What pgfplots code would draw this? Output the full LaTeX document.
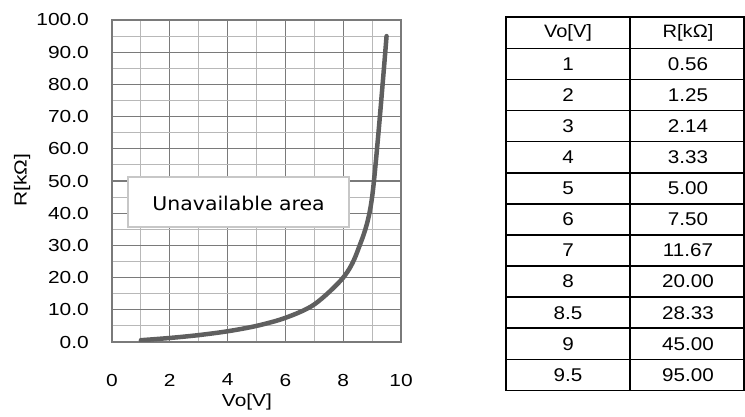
\documentclass[border=0pt]{standalone}
\usepackage{fontspec}
\setmainfont{Liberation Sans}[FakeStretch=1.2]
\newfontfamily\tabfont{Liberation Sans}[FakeStretch=1.12]
\newfontfamily\boxfont{DejaVu Sans}[FakeStretch=1.08]
\usepackage{pgfplots}
\pgfplotsset{compat=1.18}
\usepackage{pgfplotstable}
\pgfplotstableread{
vo r
1 0.56
2 1.25
3 2.14
4 3.33
5 5.00
6 7.50
7 11.67
8 20.00
8.5 28.33
9 45.00
9.5 95.00
}\datatable
\definecolor{curve}{HTML}{5F5F5F}
\begin{document}
\begin{tikzpicture}
\useasboundingbox (0,0) rectangle (745bp,417bp);
\begin{axis}[
  at={(112bp,75bp)}, anchor=south west, scale only axis,
  width=289bp, height=322bp,
  xmin=0, xmax=10, ymin=0, ymax=100,
  xtick={0,2,...,10}, minor xtick={1,3,...,9},
  ytick={0,10,...,100}, minor ytick={5,15,...,95},
  grid=both,
  major grid style={draw=black!52, line width=1.1bp},
  minor grid style={draw=black!28, line width=1.1bp},
  axis line style={draw=black!52, line width=1.1bp},
  tick style={draw=none},
  /pgf/number format/assume math mode=true,
  ticklabel style={font=\fontsize{17.5}{20}\selectfont},
  xticklabel style={anchor=center, yshift=-38bp},
  yticklabel style={anchor=east, inner sep=0pt, xshift=-23bp,
    /pgf/number format/.cd, fixed, fixed zerofill, precision=1},
]
\addplot[curve, line width=4.5bp, smooth, tension=0.5, line cap=round] table[x=vo, y=r] {\datatable};
\draw[fill=white, draw=black!22, line width=1.3bp] (axis cs:0.55,35.7) rectangle (axis cs:8.2,51.2);
\node[font=\boxfont\fontsize{19}{22}\selectfont] at (axis cs:4.38,43.0) {Unavailable area};
\end{axis}
\node[rotate=90, font=\fontsize{17.5}{20}\selectfont] at (22bp,237bp) {R[kΩ]};
\node[font=\fontsize{17.5}{20}\selectfont] at (247bp,15bp) {Vo[V]};
% table
\foreach \k in {0,...,12} {
  \pgfmathsetmacro\yy{417-17.3-31.1*\k}
  \draw[line width=1.6bp] (505.2bp,\yy bp) -- (745bp,\yy bp);
}
\foreach \xx in {506,630,744} {
  \draw[line width=1.6bp] (\xx bp,{(417-17.3)*1bp}) -- (\xx bp,{(417-17.3-31.1*12)*1bp});
}
\node[font=\tabfont\fontsize{18}{20}\selectfont] at (568bp,{(417-33.2)*1bp}) {Vo[V]};
\node[font=\tabfont\fontsize{18}{20}\selectfont] at (688bp,{(417-33.2)*1bp}) {R[kΩ]};
\foreach \a/\b [count=\i] in {1/0.56, 2/1.25, 3/2.14, 4/3.33, 5/5.00, 6/7.50, 7/11.67, 8/20.00, 8.5/28.33, 9/45.00, 9.5/95.00} {
  \pgfmathsetmacro\yy{417-17.3-31.1*(\i+0.5)}
  \node[font=\tabfont\fontsize{18.5}{20}\selectfont] at (568bp,\yy bp) {\a};
  \node[font=\tabfont\fontsize{18.5}{20}\selectfont] at (688bp,\yy bp) {\b};
}
\end{tikzpicture}
\end{document}
